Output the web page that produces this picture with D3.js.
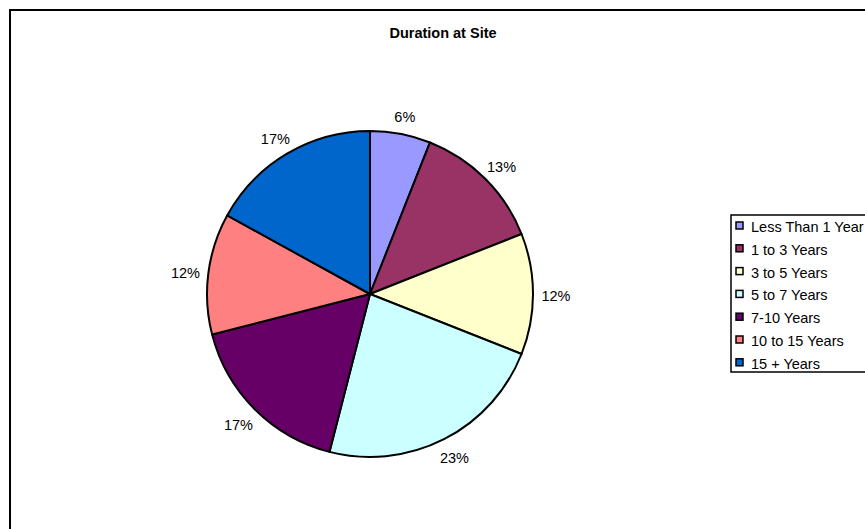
<!DOCTYPE html>
<html>
<head>
<meta charset="utf-8">
<script src="https://cdn.jsdelivr.net/npm/d3@7/dist/d3.min.js"></script>
<style>
  html, body { margin: 0; padding: 0; background: #fff; }
  svg { display: block; font-family: "Liberation Sans", Arial, sans-serif; }
</style>
</head>
<body>
<svg id="chart" width="865" height="529"></svg>
<script>
// Share of respondents by time spent at the site (percent)
const categories = ["Less Than 1 Year", "1 to 3 Years", "3 to 5 Years", "5 to 7 Years",
                    "7-10 Years", "10 to 15 Years", "15 + Years"];
const shares = [6, 13, 12, 23, 17, 12, 17];
const colors = ["#9999FF", "#993366", "#FFFFCC", "#CCFFFF", "#660066", "#FF8080", "#0066CC"];
const title = "Duration at Site";

const svg = d3.select("#chart");
const W = 865, H = 529;

// Chart-area frame (runs off the right and bottom edges)
svg.append("rect")
  .attr("x", 10).attr("y", 10)
  .attr("width", W + 20).attr("height", H + 20)
  .attr("fill", "#fff").attr("stroke", "#000").attr("stroke-width", 2);

svg.append("text")
  .attr("x", 443).attr("y", 38)
  .attr("text-anchor", "middle")
  .attr("font-size", 14.5).attr("font-weight", "bold")
  .text(title);

const data = categories.map((c, i) => ({ name: c, value: shares[i], color: colors[i] }));

const cx = 370, cy = 294, r = 163;
const pie = d3.pie().value(d => d.value).sort(null);
const arc = d3.arc().innerRadius(0).outerRadius(r);
const arcs = pie(data);

const g = svg.append("g").attr("transform", `translate(${cx},${cy})`);

g.selectAll("path.slice")
  .data(arcs)
  .join("path")
  .attr("class", "slice")
  .attr("d", arc)
  .attr("fill", d => d.data.color)
  .attr("stroke", "#000")
  .attr("stroke-width", 2)
  .attr("stroke-linejoin", "round");

// Percentage labels placed just outside the rim
const pad = 11, halfW = 12, halfH = 8;
g.selectAll("text.pct")
  .data(arcs)
  .join("text")
  .attr("class", "pct")
  .attr("font-size", 14.5)
  .attr("text-anchor", "middle")
  .attr("dominant-baseline", "central")
  .attr("x", d => {
    const a = (d.startAngle + d.endAngle) / 2;
    const ux = Math.sin(a);
    return ux * (r + pad) + ux * halfW;
  })
  .attr("y", d => {
    const a = (d.startAngle + d.endAngle) / 2;
    const uy = -Math.cos(a);
    return uy * (r + pad) + uy * halfH + 2;
  })
  .text(d => d.data.value + "%");

// Legend
const lx = 731, ly = 215, rowH = 22.8;
svg.append("rect")
  .attr("x", lx).attr("y", ly)
  .attr("width", 160).attr("height", 157)
  .attr("fill", "#fff").attr("stroke", "#000").attr("stroke-width", 1.5);

const rows = svg.append("g").selectAll("g")
  .data(data)
  .join("g")
  .attr("transform", (d, i) => `translate(${lx}, ${ly + 11 + i * rowH})`);

rows.append("rect")
  .attr("x", 5).attr("y", -4)
  .attr("width", 7).attr("height", 7)
  .attr("fill", d => d.color)
  .attr("stroke", "#000").attr("stroke-width", 1.5);

rows.append("text")
  .attr("x", 20).attr("y", 1)
  .attr("dominant-baseline", "central")
  .attr("font-size", 14.5)
  .text(d => d.name);
</script>
</body>
</html>
